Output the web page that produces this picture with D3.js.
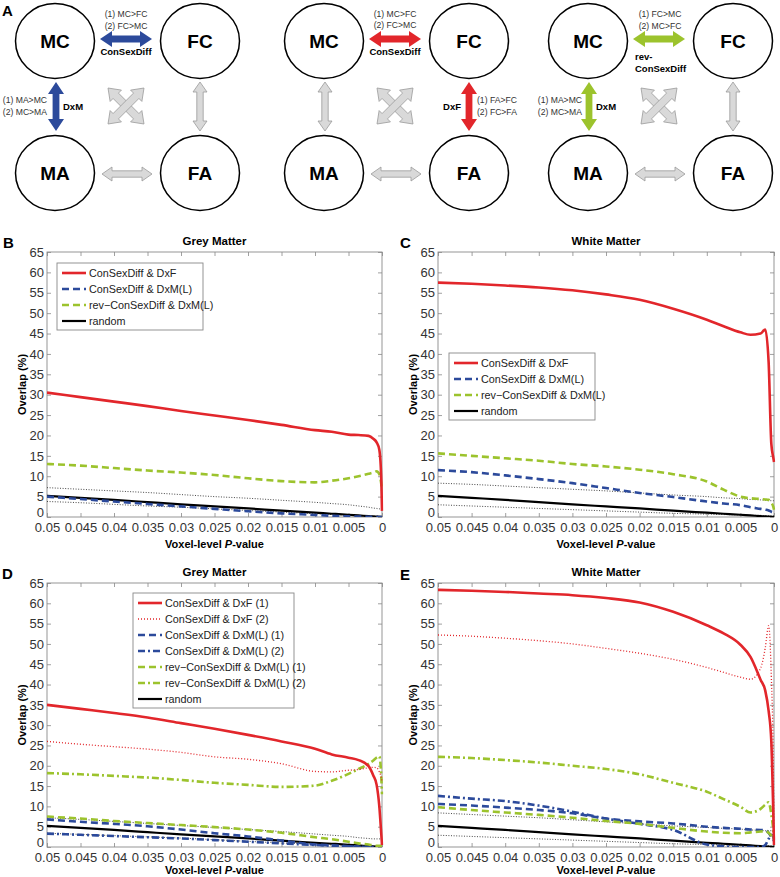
<!DOCTYPE html>
<html><head><meta charset="utf-8">
<script src="https://cdnjs.cloudflare.com/ajax/libs/d3/7.8.5/d3.min.js"></script>
<style>body{margin:0;background:#fff}svg{display:block}</style>
</head><body>
<svg id="c" width="780" height="877"></svg>
<script>
// ---------- DATA ----------
const pValues = [0.05, 0.045, 0.04, 0.035, 0.03, 0.025, 0.02, 0.015, 0.01, 0.0075, 0.005, 0.0035, 0.002, 0.0013, 0.0008, 0.0004, 0.0001, 0];
const xTickValues = [0.05, 0.045, 0.04, 0.035, 0.03, 0.025, 0.02, 0.015, 0.01, 0.005, 0];
const yTickValues = [0, 5, 10, 15, 20, 25, 30, 35, 40, 45, 50, 55, 60, 65];

const randomLine   = [5.2, 4.7, 4.2, 3.65, 3.1, 2.6, 2.1, 1.55, 1.05, 0.8, 0.55, 0.38, 0.22, 0.14, 0.09, 0.05, 0.02, 0];

// B: Grey matter
const gmDxF        = [30.5, 29.4, 28.3, 27.2, 26.0, 24.9, 23.8, 22.6, 21.3, 20.9, 20.2, 20.1, 19.9, 19.2, 18.3, 16.5, 9, 1.5];
const gmDxML       = [5.0, 4.4, 3.8, 3.2, 2.6, 2.0, 1.4, 0.9, 0.5, 0.3, 0.15, 0.1, 0.05, 0, 0, 0, 0, 0];
const gmRevDxML    = [13.0, 12.6, 12.0, 11.4, 10.9, 10.3, 9.5, 8.8, 8.5, 8.9, 9.5, 10.0, 10.6, 10.9, 11.2, 10.5, 8, 6.5];
const gmRandUpper  = [7.2, 6.8, 6.4, 6.0, 5.5, 5.0, 4.6, 4.1, 3.6, 3.3, 3.0, 2.7, 2.4, 2.2, 2.1, 2.0, 2.0, 2.0];
const gmRandLower  = [3.8, 3.5, 3.1, 2.7, 2.4, 2.0, 1.6, 1.2, 0.8, 0.6, 0.4, 0.3, 0.2, 0.2, 0.2, 0.2, 0.2, 0.2];

// C: White matter
const wmDxF        = [57.5, 57.2, 56.8, 56.3, 55.6, 54.6, 53.3, 51.1, 48.4, 46.8, 45.3, 44.7, 45.0, 46.0, 38, 18, 14.5, 13.5];
const wmDxML       = [11.5, 11.0, 10.2, 9.3, 8.3, 7.1, 5.9, 4.9, 3.8, 3.3, 2.9, 2.4, 2.0, 1.8, 1.6, 1.3, 1.1, 1.0];
const wmRevDxML    = [15.6, 15.0, 14.4, 13.8, 13.0, 12.4, 11.6, 10.5, 8.7, 6.7, 5.0, 4.6, 4.4, 4.3, 4.2, 3.5, 2.5, 1.8];
const wmRandUpper  = [8.3, 8.0, 7.6, 7.2, 6.8, 6.4, 5.9, 5.4, 5.0, 4.7, 4.5, 4.3, 4.2, 4.1, 4.0, 4.0, 4.0, 4.0];
const wmRandLower  = [3.0, 2.7, 2.4, 2.1, 1.8, 1.5, 1.2, 0.9, 0.7, 0.6, 0.5, 0.4, 0.4, 0.3, 0.3, 0.3, 0.3, 0.3];

// D: Grey matter, split (1)/(2)
const gmDxF1       = [35.0, 34.0, 33.0, 31.9, 30.5, 29.1, 27.6, 26.0, 24.2, 22.8, 22.0, 21.4, 19.9, 17.6, 15.3, 10, 3, 0.5];
const gmDxF2       = [26.0, 25.3, 24.7, 24.1, 23.3, 22.2, 21.6, 20.5, 18.6, 18.5, 18.9, 19.1, 19.5, 19.6, 19.5, 18.5, 17, 16];
const gmDxML1      = [6.8, 6.2, 5.7, 5.1, 4.3, 3.4, 2.6, 1.6, 0.6, 0.4, 0.2, 0.1, 0, 0, 0, 0, 0, 0];
const gmDxML2      = [3.3, 3.0, 2.7, 2.4, 2.1, 1.7, 1.3, 0.9, 0.5, 0.3, 0.15, 0.1, 0, 0, 0, 0, 0, 0];
const gmRevDxML1   = [7.5, 7.0, 6.4, 5.9, 5.4, 4.9, 4.3, 3.5, 2.4, 1.9, 1.3, 0.9, 0.6, 0.4, 0.3, 0.3, 0.3, 0.3];
const gmRevDxML2   = [18.2, 17.9, 17.5, 17.1, 16.5, 15.8, 15.3, 14.8, 15.1, 16.3, 18.0, 19.2, 20.5, 21.3, 22.0, 22.3, 17, 13];
const gmRandUpper2 = [7.2, 6.8, 6.3, 5.8, 5.3, 4.8, 4.3, 3.8, 3.2, 2.9, 2.6, 2.3, 2.1, 2.0, 2.0, 2.0, 2.0, 2.0];
const gmRandLower2 = [3.4, 3.1, 2.8, 2.5, 2.2, 1.8, 1.4, 1.0, 0.7, 0.5, 0.4, 0.3, 0.2, 0.2, 0.2, 0.2, 0.2, 0.2];

// E: White matter, split (1)/(2)
const wmDxF1       = [63.3, 63.1, 62.8, 62.4, 62.0, 61.3, 60.2, 57.9, 54.6, 52.6, 49.8, 46.8, 41.2, 38.5, 33.5, 26, 8, 0.5];
const wmDxF2       = [52.2, 51.9, 51.4, 50.8, 50.0, 48.9, 47.7, 46.2, 44.2, 43.0, 41.8, 41.3, 44, 49, 54.5, 42, 20, 3];
const wmDxML1      = [10.6, 10.2, 9.7, 9.1, 8.3, 7.0, 6.3, 5.8, 5.0, 4.7, 4.5, 4.3, 4.2, 4.1, 3.5, 2.5, 1.8, 1.5];
const wmDxML2      = [12.6, 11.9, 11.3, 10.2, 8.7, 7.0, 5.7, 4.2, 0.6, 0.2, 0, 0, 0, 0.5, 2.0, 3.0, 2.5, 1.5];
const wmRevDxML1   = [9.8, 9.1, 8.5, 7.9, 7.2, 6.4, 5.7, 4.7, 3.8, 3.5, 3.4, 3.6, 3.8, 3.9, 3.5, 2.8, 2.2, 2.0];
const wmRevDxML2   = [22.2, 21.9, 21.4, 20.8, 20.0, 19.2, 17.9, 15.8, 13.6, 11.8, 9.9, 8.5, 9.4, 10.4, 11.0, 8, 4, 2];
const wmRandUpper2 = [8.4, 8.0, 7.6, 7.2, 6.7, 6.2, 5.7, 5.2, 4.8, 4.6, 4.4, 4.2, 4.1, 4.0, 4.0, 4.0, 4.0, 4.0];
const wmRandLower2 = [2.9, 2.6, 2.3, 2.0, 1.7, 1.4, 1.1, 0.8, 0.6, 0.5, 0.4, 0.3, 0.3, 0.3, 0.3, 0.3, 0.3, 0.3];

// Panel A nodes
const nodeNames = ["MC", "FC", "MA", "FA"];
const diagramOffsets = [0, 269, 533];

// ---------- STYLES ----------
const RED = "#e2262b", BLUE = "#2c4a9b", GREEN = "#9cc32d";
const styles = {
  redSolid:   {stroke: RED, w: 2.6, dash: null},
  redDot:     {stroke: RED, w: 1.3, dash: "1,2"},
  blueDash:   {stroke: BLUE, w: 2.6, dash: "7,4"},
  blueDashDot:{stroke: BLUE, w: 2.6, dash: "7,3,2,3"},
  greenDash:  {stroke: GREEN, w: 2.6, dash: "7,4"},
  greenDashDot:{stroke: GREEN, w: 2.6, dash: "7,3,2,3"},
  black:      {stroke: "#000", w: 2.2, dash: null},
  blackDot:   {stroke: "#333", w: 0.9, dash: "1,1.6"}
};
const FONT = "'Liberation Sans', Arial, sans-serif";

const svg = d3.select("#c");

// ---------- PANEL A ----------
function arrowPts(x1, y1, x2, y2, s, h, L) {
  const dx = x2 - x1, dy = y2 - y1, len = Math.hypot(dx, dy);
  const ux = dx / len, uy = dy / len, nx = -uy, ny = ux;
  const P = (bx, by, a, b) => [bx + ux * a + nx * b, by + uy * a + ny * b];
  return [
    [x1, y1], P(x1, y1, L, h), P(x1, y1, L, s), P(x2, y2, -L, s), P(x2, y2, -L, h),
    [x2, y2], P(x2, y2, -L, -h), P(x2, y2, -L, -s), P(x1, y1, L, -s), P(x1, y1, L, -h)
  ];
}
const nodePos = {MC: [55, 41], FC: [200, 41], MA: [55, 173], FA: [200, 173]};
const edges = {
  top: [100, 39, 152, 39], left: [56, 82, 56, 131], right: [200, 82, 200, 131],
  bottom: [102, 174, 152, 174], cross1: [108, 88, 144, 124], cross2: [144, 88, 108, 124]
};
const diagramHighlights = [
  {top: BLUE, left: BLUE},
  {top: RED, right: RED},
  {top: GREEN, left: GREEN}
];
const diagramLabels = [
  [
    {x: 126, y: 17, t: "(1) MC>FC", a: "middle"}, {x: 126, y: 29, t: "(2) FC>MC", a: "middle"},
    {x: 126, y: 55, t: "ConSexDiff", a: "middle", b: true},
    {x: 47, y: 103, t: "(1) MA>MC", a: "end"}, {x: 47, y: 115, t: "(2) MC>MA", a: "end"},
    {x: 63, y: 110, t: "DxM", a: "start", b: true}
  ],
  [
    {x: 126, y: 17, t: "(1) MC>FC", a: "middle"}, {x: 126, y: 28, t: "(2) FC>MC", a: "middle"},
    {x: 126, y: 55, t: "ConSexDiff", a: "middle", b: true},
    {x: 192, y: 110, t: "DxF", a: "end", b: true},
    {x: 208, y: 103, t: "(1) FA>FC", a: "start"}, {x: 208, y: 115, t: "(2) FC>FA", a: "start"}
  ],
  [
    {x: 127, y: 17, t: "(1) FC>MC", a: "middle"}, {x: 127, y: 29, t: "(2) MC>FC", a: "middle"},
    {x: 102, y: 60, t: "rev-", a: "start", b: true}, {x: 102, y: 72, t: "ConSexDiff", a: "start", b: true},
    {x: 49, y: 103, t: "(1) MA>MC", a: "end"}, {x: 49, y: 115, t: "(2) MC>MA", a: "end"},
    {x: 63, y: 110, t: "DxM", a: "start", b: true}
  ]
];

diagramOffsets.forEach((off, i) => {
  const g = svg.append("g").attr("transform", `translate(${off},0)`);
  Object.entries(edges).forEach(([k, e]) => {
    const col = diagramHighlights[i][k];
    const isCross = k.startsWith("cross");
    const pts = col ? arrowPts(e[0], e[1], e[2], e[3], 3.4, 8, 12)
                    : arrowPts(e[0], e[1], e[2], e[3], isCross ? 3.8 : 3.2, isCross ? 8 : 7, isCross ? 11 : 10);
    g.append("polygon").attr("points", pts.map(p => p.join(",")).join(" "))
      .attr("fill", col || "#d9d9d9").attr("stroke", col ? "none" : "#9a9a9a").attr("stroke-width", 0.8);
  });
  nodeNames.forEach(n => {
    const [cx, cy] = nodePos[n];
    g.append("ellipse").attr("cx", cx).attr("cy", cy).attr("rx", 39.5).attr("ry", 37.5)
      .attr("fill", "#fff").attr("stroke", "#000").attr("stroke-width", 1.5);
    g.append("text").attr("x", cx).attr("y", cy + 7).attr("text-anchor", "middle")
      .attr("font-family", FONT).attr("font-weight", "bold").attr("font-size", 19).text(n);
  });
  diagramLabels[i].forEach(l => {
    g.append("text").attr("x", l.x).attr("y", l.y).attr("text-anchor", l.a)
      .attr("font-family", FONT).attr("font-size", l.b ? 9.5 : 8.6)
      .attr("font-weight", l.b ? "bold" : "normal").attr("fill", l.b ? "#000" : "#333").text(l.t);
  });
});
svg.append("text").attr("x", 2).attr("y", 16).attr("font-family", FONT).attr("font-weight", "bold")
  .attr("font-size", 15).text("A");

// ---------- PLOT PANELS ----------
function drawPanel(cfg) {
  const x = d3.scaleLinear().domain([0.05, 0]).range([cfg.left, cfg.right]);
  const y = d3.scaleLinear().domain([0, 65]).range([cfg.bottom, cfg.top]);
  const g = svg.append("g");
  const clipId = "clip" + cfg.letter;
  svg.append("clipPath").attr("id", clipId).append("rect")
    .attr("x", cfg.left).attr("y", cfg.top - 2).attr("width", cfg.right - cfg.left + 1.5)
    .attr("height", cfg.bottom - cfg.top + 2);

  const fmt = d => d === 0 ? "0" : String(d);
  const axB = g.append("g").attr("transform", `translate(0,${cfg.bottom})`)
    .call(d3.axisBottom(x).tickValues(xTickValues).tickSize(-4).tickPadding(6).tickFormat(fmt));
  const axL = g.append("g").attr("transform", `translate(${cfg.left},0)`)
    .call(d3.axisLeft(y).tickValues(yTickValues).tickSize(-4).tickPadding(3));
  const axT = g.append("g").attr("transform", `translate(0,${cfg.top})`)
    .call(d3.axisTop(x).tickValues(xTickValues).tickSize(-4).tickFormat(""));
  const axR = g.append("g").attr("transform", `translate(${cfg.right},0)`)
    .call(d3.axisRight(y).tickValues(yTickValues).tickSize(-4).tickFormat(""));
  [axB, axL, axT, axR].forEach(a => {
    a.select(".domain").remove();
    a.selectAll(".tick line").attr("stroke", "#888").attr("stroke-width", 0.8);
    a.selectAll("text").attr("font-family", FONT).attr("font-size", 13).attr("fill", "#333");
  });
  // lift the y "0" label slightly so it does not collide with the "0.05" x label
  axL.selectAll(".tick").filter(d => d === 0).select("text").attr("dy", "-0.02em");

  g.append("rect").attr("x", cfg.left).attr("y", cfg.top)
    .attr("width", cfg.right - cfg.left).attr("height", cfg.bottom - cfg.top)
    .attr("fill", "none").attr("stroke", "#8a8a8a").attr("stroke-width", 0.9);

  const line = d3.line().x((d, i) => x(pValues[i])).y(d => y(d)).curve(d3.curveMonotoneX);
  const lg = g.append("g").attr("clip-path", `url(#${clipId})`);
  cfg.series.forEach(s => {
    const st = styles[s.style];
    lg.append("path").attr("d", line(s.values)).attr("fill", "none")
      .attr("stroke", st.stroke).attr("stroke-width", st.w)
      .attr("stroke-dasharray", st.dash).attr("stroke-linejoin", "round");
  });

  g.append("text").attr("x", (cfg.left + cfg.right) / 2).attr("y", cfg.top - 7)
    .attr("text-anchor", "middle").attr("font-family", FONT).attr("font-weight", "bold")
    .attr("font-size", 11.5).text(cfg.title);
  const xl = g.append("text").attr("x", (cfg.left + cfg.right) / 2).attr("y", cfg.bottom + cfg.xlabOff)
    .attr("text-anchor", "middle").attr("font-family", FONT).attr("font-weight", "bold").attr("font-size", 11);
  xl.append("tspan").text("Voxel-level ");
  xl.append("tspan").attr("font-style", "italic").text("P");
  xl.append("tspan").text("-value");
  g.append("text").attr("transform", `translate(${cfg.left - 21},${(cfg.top + cfg.bottom) / 2}) rotate(-90)`)
    .attr("text-anchor", "middle").attr("font-family", FONT).attr("font-weight", "bold")
    .attr("font-size", 11).text("Overlap (%)");
  g.append("text").attr("x", cfg.letterX).attr("y", cfg.letterY).attr("font-family", FONT)
    .attr("font-weight", "bold").attr("font-size", 15).text(cfg.letter);

  const L = cfg.legend;
  if (!L) return;
  const lgd = g.append("g");
  lgd.append("rect").attr("x", L.x).attr("y", L.y).attr("width", L.w)
    .attr("height", L.items.length * 16 + 3).attr("fill", "#fff").attr("stroke", "#888").attr("stroke-width", 0.9);
  L.items.forEach((it, i) => {
    const st = styles[it.style];
    const yy = L.y + 10 + i * 16;
    lgd.append("line").attr("x1", L.x + 5).attr("x2", L.x + 29).attr("y1", yy).attr("y2", yy)
      .attr("stroke", st.stroke).attr("stroke-width", st.w).attr("stroke-dasharray", st.dash);
    lgd.append("text").attr("x", L.x + 32).attr("y", yy + 4).attr("font-family", FONT)
      .attr("font-size", 10.8).attr("fill", "#222").text(it.label);
  });
}

const legendSimple = [
  {label: "ConSexDiff & DxF", style: "redSolid"}, {label: "ConSexDiff & DxM(L)", style: "blueDash"},
  {label: "rev−ConSexDiff & DxM(L)", style: "greenDash"}, {label: "random", style: "black"}];
const legendSplit = [
  {label: "ConSexDiff & DxF (1)", style: "redSolid"}, {label: "ConSexDiff & DxF (2)", style: "redDot"},
  {label: "ConSexDiff & DxM(L) (1)", style: "blueDash"}, {label: "ConSexDiff & DxM(L) (2)", style: "blueDashDot"},
  {label: "rev−ConSexDiff & DxM(L) (1)", style: "greenDash"}, {label: "rev−ConSexDiff & DxM(L) (2)", style: "greenDashDot"},
  {label: "random", style: "black"}];

drawPanel({
  letter: "B", letterX: 3, letterY: 248, title: "Grey Matter",
  left: 47, right: 382, top: 252, bottom: 517, xlabOff: 31,
  series: [
    {values: gmRandUpper, style: "blackDot"}, {values: gmRandLower, style: "blackDot"},
    {values: randomLine, style: "black"}, {values: gmDxML, style: "blueDash"},
    {values: gmRevDxML, style: "greenDash"}, {values: gmDxF, style: "redSolid"}
  ],
  legend: {x: 57, y: 263, w: 146, items: legendSimple}
});

drawPanel({
  letter: "C", letterX: 400, letterY: 248, title: "White Matter",
  left: 438, right: 774, top: 252, bottom: 517, xlabOff: 31,
  series: [
    {values: wmRandUpper, style: "blackDot"}, {values: wmRandLower, style: "blackDot"},
    {values: randomLine, style: "black"}, {values: wmDxML, style: "blueDash"},
    {values: wmRevDxML, style: "greenDash"}, {values: wmDxF, style: "redSolid"}
  ],
  legend: {x: 449, y: 353, w: 146, items: legendSimple}
});

drawPanel({
  letter: "D", letterX: 2, letterY: 579, title: "Grey Matter",
  left: 47, right: 382, top: 583, bottom: 847, xlabOff: 27,
  series: [
    {values: gmRandUpper2, style: "blackDot"}, {values: gmRandLower2, style: "blackDot"},
    {values: randomLine, style: "black"},
    {values: gmDxML2, style: "blueDashDot"}, {values: gmDxML1, style: "blueDash"},
    {values: gmRevDxML1, style: "greenDash"}, {values: gmRevDxML2, style: "greenDashDot"},
    {values: gmDxF2, style: "redDot"}, {values: gmDxF1, style: "redSolid"}
  ],
  legend: {x: 133, y: 593, w: 161, items: legendSplit}
});

drawPanel({
  letter: "E", letterX: 400, letterY: 580, title: "White Matter",
  left: 438, right: 774, top: 583, bottom: 847, xlabOff: 27,
  series: [
    {values: wmRandUpper2, style: "blackDot"}, {values: wmRandLower2, style: "blackDot"},
    {values: randomLine, style: "black"},
    {values: wmDxML2, style: "blueDashDot"}, {values: wmDxML1, style: "blueDash"},
    {values: wmRevDxML1, style: "greenDash"}, {values: wmRevDxML2, style: "greenDashDot"},
    {values: wmDxF2, style: "redDot"}, {values: wmDxF1, style: "redSolid"}
  ],
  legend: null
});
</script>
</body></html>
